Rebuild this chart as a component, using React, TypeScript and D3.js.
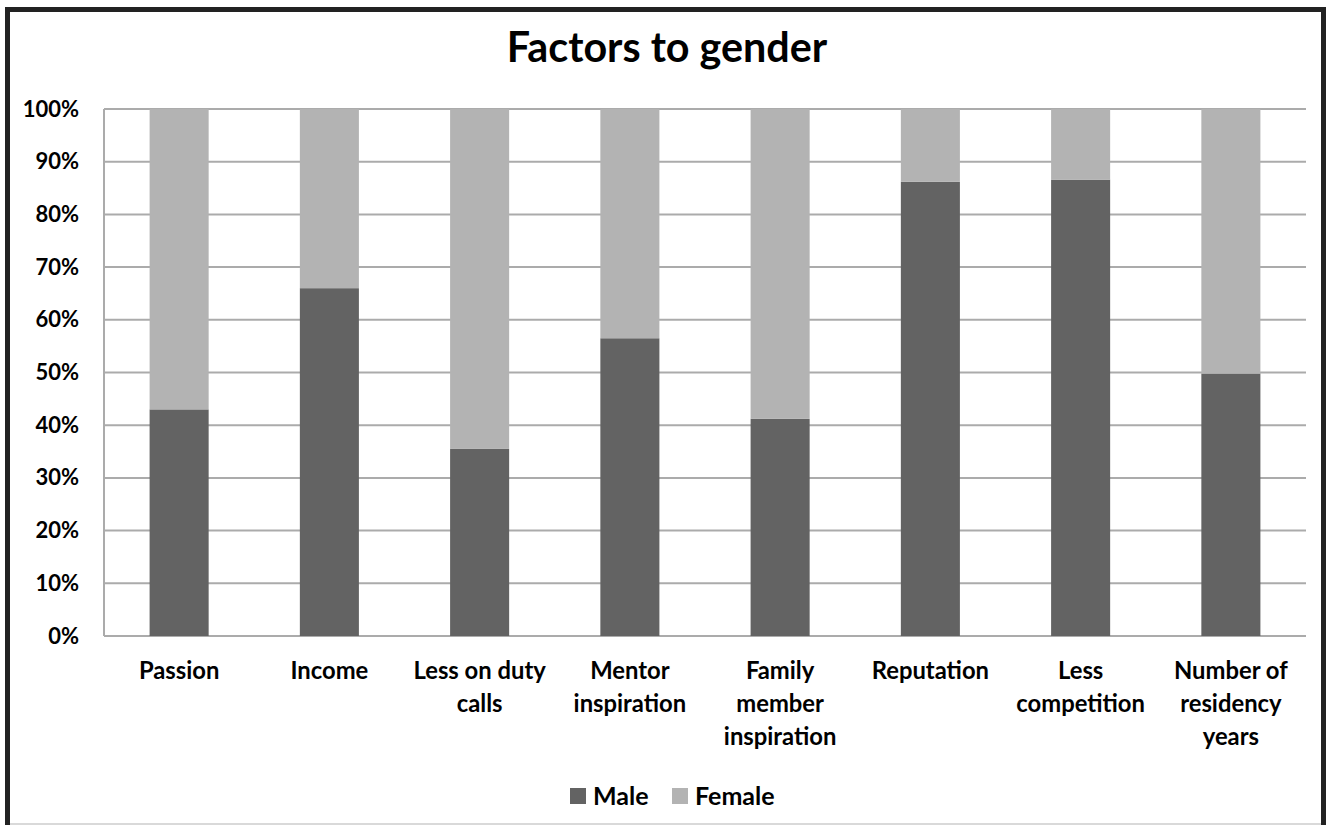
import React from "react";
import * as d3 from "d3";

const categories: string[][] = [
  ["Passion"],
  ["Income"],
  ["Less on duty", "calls"],
  ["Mentor", "inspiration"],
  ["Family", "member", "inspiration"],
  ["Reputation"],
  ["Less", "competition"],
  ["Number of", "residency", "years"],
];
const maleValues = [0.43, 0.66, 0.355, 0.565, 0.412, 0.862, 0.866, 0.498];
const femaleValues = maleValues.map((m) => 1 - m);
const yTicks = [0, 0.1, 0.2, 0.3, 0.4, 0.5, 0.6, 0.7, 0.8, 0.9, 1.0];
const seriesNames = ["Male", "Female"];
const seriesColors = ["#636363", "#b3b3b3"];

const W = 1330;
const H = 825;
const FONT = "Lato, 'Open Sans', sans-serif";

export default function App() {
  const left = 104, right = 1306, top = 109, bottom = 636;
  const x = d3
    .scaleBand<number>()
    .domain(d3.range(categories.length))
    .range([left, right])
    .paddingInner(0.607)
    .paddingOuter(0.3035);
  const y = d3.scaleLinear().domain([0, 1]).range([bottom, top]);
  const fmt = d3.format(".0%");

  return (
    <svg width={W} height={H} style={{ position: "absolute", left: 0, top: 0 }}>
      <rect x={0} y={0} width={W} height={H} fill="#ffffff" />
      {/* outer frame */}
      <line x1={7.5} y1={7} x2={7.5} y2={H} stroke="#222" strokeWidth={5} />
      <line x1={5} y1={9.5} x2={1326} y2={9.5} stroke="#222" strokeWidth={5} />
      <line x1={1323.5} y1={7} x2={1323.5} y2={H} stroke="#222" strokeWidth={5} />
      <line x1={10} y1={824} x2={1321} y2={824} stroke="#d9d9d9" strokeWidth={2} />

      <text x={667} y={62} textAnchor="middle" fontFamily={FONT} fontWeight={700} fontSize={41.3} fill="#000">
        Factors to gender
      </text>

      {/* gridlines */}
      {yTicks.map((t) => (
        <line key={t} x1={left} x2={right} y1={y(t)} y2={y(t)} stroke="#ababab" strokeWidth={2} />
      ))}
      <line x1={left} x2={left} y1={top} y2={bottom} stroke="#ababab" strokeWidth={2} />

      {/* bars */}
      {categories.map((_, i) => (
        <g key={i}>
          <rect
            x={x(i)}
            width={x.bandwidth()}
            y={y(maleValues[i])}
            height={y(0) - y(maleValues[i])}
            fill={seriesColors[0]}
          />
          <rect
            x={x(i)}
            width={x.bandwidth()}
            y={y(maleValues[i] + femaleValues[i])}
            height={y(maleValues[i]) - y(maleValues[i] + femaleValues[i])}
            fill={seriesColors[1]}
          />
        </g>
      ))}

      {/* y tick labels */}
      {yTicks.map((t) => (
        <text key={t} x={79} y={y(t) + 7.5} textAnchor="end" fontFamily={FONT} fontWeight={700} fontSize={22} fill="#000">
          {fmt(t)}
        </text>
      ))}

      {/* x labels */}
      {categories.map((lines, i) => (
        <text key={i} textAnchor="middle" fontFamily={FONT} fontWeight={700} fontSize={23.8} fill="#000">
          {lines.map((ln, j) => (
            <tspan key={j} x={(x(i) as number) + x.bandwidth() / 2} y={679 + j * 33}>
              {ln}
            </tspan>
          ))}
        </text>
      ))}

      {/* legend */}
      {seriesNames.map((n, i) => {
        const lx = i === 0 ? 570 : 672;
        return (
          <g key={n}>
            <rect x={lx} y={788} width={16} height={16} fill={seriesColors[i]} />
            <text x={lx + 23} y={805} fontFamily={FONT} fontWeight={700} fontSize={25} fill="#000">
              {n}
            </text>
          </g>
        );
      })}
    </svg>
  );
}
